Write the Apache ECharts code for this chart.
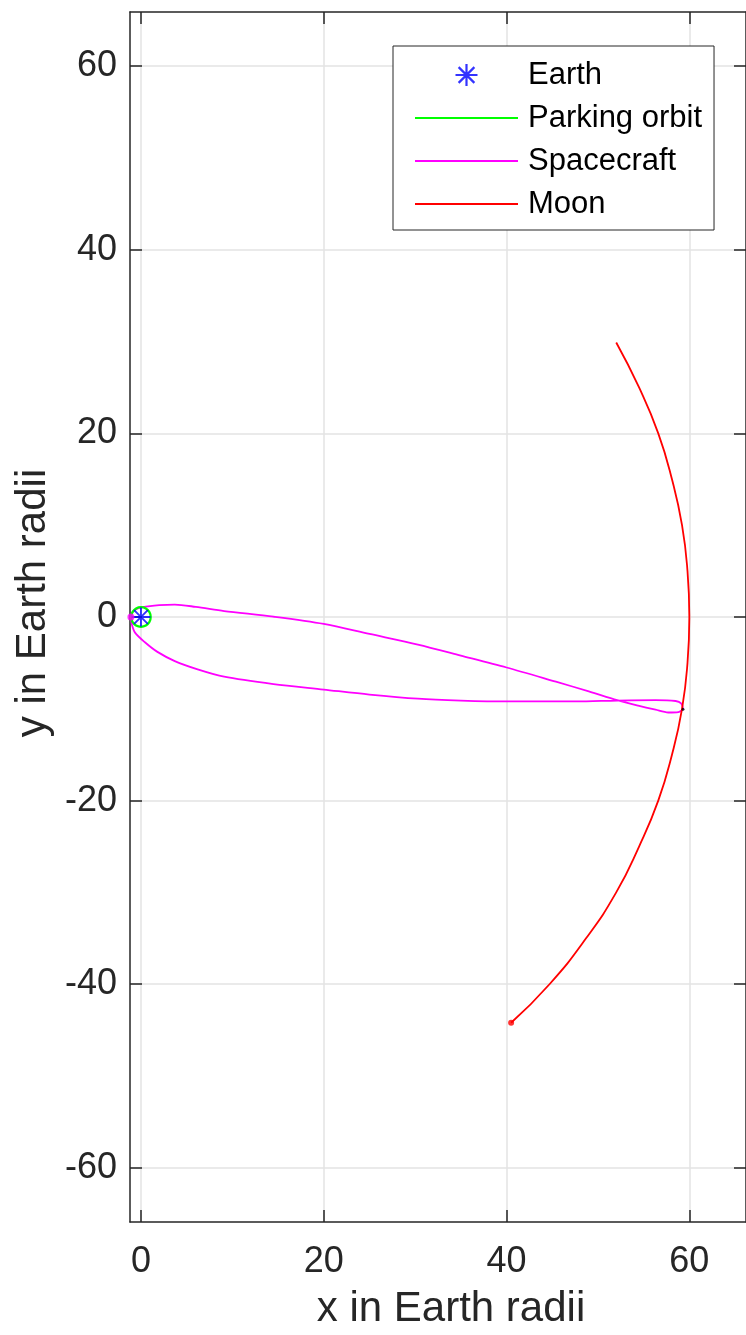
<!DOCTYPE html>
<html>
<head>
<meta charset="utf-8">
<script src="https://cdn.jsdelivr.net/npm/echarts@6/dist/echarts.min.js"></script>
<style>
  html,body{margin:0;padding:0;background:#fff;}
  #chart{width:746px;height:1335px;}
</style>
</head>
<body>
<div id="chart"></div>
<script>
// axis ticks
const xTicks = [0, 20, 40, 60];
const yTicks = [-60, -40, -20, 0, 20, 40, 60];

// Earth position
const earth = [[0, 0]];

// parking orbit (radius ~1.07 Earth radii)
const parking = [
  [1.07,0],[0.93,0.535],[0.535,0.93],[0,1.07],[-0.535,0.93],[-0.93,0.535],[-1.07,0],
  [-0.93,-0.535],[-0.535,-0.93],[0,-1.07],[0.535,-0.93],[0.93,-0.535],[1.07,0]
];

// spacecraft trajectory
const craft = [
  [-1.1,0],[-0.9,0.55],[-0.3,0.95],[0.76,1.15],[2,1.3],[3.7,1.35],[6,1.1],[9.1,0.65],
  [14.5,0.03],[20,-0.76],[25,-1.85],[30.3,-3.0],[35,-4.2],[40,-5.5],[45.4,-7.05],[49,-8.1],
  [52.1,-9.05],[54.4,-9.65],[56.3,-10.1],[57.7,-10.4],[58.8,-10.35],[59.3,-10.0],[59.1,-9.4],
  [58.5,-9.15],[56.3,-9.05],[52.1,-9.1],[47.6,-9.2],[40,-9.2],[35,-9.1],[30.3,-8.9],
  [25,-8.45],[20,-7.9],[14.5,-7.3],[9.1,-6.5],[6.2,-5.7],[3.7,-4.8],[1.8,-3.8],[0.43,-2.75],
  [-0.65,-1.7],[-1.0,-0.8],[-1.1,0]
];

// moon path
const moon = [
  [52.0,29.9],[54.5,25],[56.6,20],[58.1,15],[59.2,10],[59.8,5],[60.0,0],[59.8,-5],
  [59.2,-10],[58.1,-15],[56.6,-20],[54.5,-25],[52.0,-30],[48.7,-35],[44.7,-40],[40.5,-44.2]
];

const craftDot = [[-1.1, 0]];
const moonDot = [[40.5, -44.2]];
const endDot = [[59.3, -10.05]];

const ASTER = 'path://M0 45L100 45L100 55L0 55Z M45 0L55 0L55 100L45 100Z ' +
  'M17.7 10.6L89.4 82.3L82.3 89.4L10.6 17.7Z M82.3 10.6L89.4 17.7L17.7 89.4L10.6 82.3Z';
const LINEICON = 'path://M0 0L103 0L103 2L0 2Z';

const FONT = 'Liberation Sans, Arial, Helvetica, sans-serif';
const AX = '#262626', GRID = '#e3e3e3';

const chart = echarts.init(document.getElementById('chart'));
chart.setOption({
  animation: false,
  backgroundColor: '#fff',
  grid: {left: 130, top: 12, width: 621, height: 1218, containLabel: false},
  legend: {
    orient: 'vertical', left: 393, top: 46,
    data: [
      {name: 'Earth'},
      {name: 'Parking orbit', icon: LINEICON},
      {name: 'Spacecraft', icon: LINEICON},
      {name: 'Moon', icon: LINEICON}
    ],
    itemWidth: 103, itemHeight: 22, itemGap: 11,
    padding: [13, 12, 10, 22],
    borderColor: AX, borderWidth: 1, backgroundColor: '#fff',
    textStyle: {fontFamily: FONT, fontSize: 31, color: '#000', lineHeight: 32, padding: [0, 0, 0, 5]}
  },
  xAxis: [{
    type: 'value', min: -1.2, max: 66.2,
    name: 'x in Earth radii', nameLocation: 'middle', nameGap: 66,
    nameTextStyle: {fontFamily: FONT, fontSize: 42, color: AX, padding: [0, 0, 0, 26]},
    axisLine: {show: true, onZero: false, lineStyle: {color: AX, width: 1.5}},
    axisTick: {inside: true, length: 12, customValues: xTicks, lineStyle: {color: AX, width: 1.5}},
    axisLabel: {customValues: xTicks, fontFamily: FONT, fontSize: 36, color: AX, margin: 22},
    splitLine: {show: true, lineStyle: {color: GRID, width: 1.5}}
  }, {
    type: 'value', min: -1.2, max: 66.2, position: 'top',
    axisLine: {show: true, onZero: false, lineStyle: {color: AX, width: 1.5}},
    axisTick: {inside: true, length: 12, customValues: xTicks, lineStyle: {color: AX, width: 1.5}},
    axisLabel: {show: false}, splitLine: {show: false}
  }],
  yAxis: [{
    type: 'value', min: -65.9, max: 65.9,
    name: 'y in Earth radii', nameLocation: 'middle', nameGap: 76,
    nameTextStyle: {fontFamily: FONT, fontSize: 42, color: AX, padding: [0, 0, 0, 28]},
    axisLine: {show: true, onZero: false, lineStyle: {color: AX, width: 1.5}},
    axisTick: {inside: true, length: 12, customValues: yTicks, lineStyle: {color: AX, width: 1.5}},
    axisLabel: {customValues: yTicks, fontFamily: FONT, fontSize: 36, color: AX, margin: 13},
    splitLine: {show: true, lineStyle: {color: GRID, width: 1.5}}
  }, {
    type: 'value', min: -65.9, max: 65.9, position: 'right',
    axisLine: {show: true, onZero: false, lineStyle: {color: AX, width: 1.5}},
    axisTick: {inside: true, length: 12, customValues: yTicks, lineStyle: {color: AX, width: 1.5}},
    axisLabel: {show: false}, splitLine: {show: false}
  }],
  series: [
    {name: 'Earth', type: 'scatter', data: earth, symbol: ASTER, symbolSize: 19,
      itemStyle: {color: '#0000ff'}, z: 5},
    {name: 'Parking orbit', type: 'line', data: parking, smooth: true, symbol: 'none',
      lineStyle: {color: '#00ff00', width: 2.2}, itemStyle: {color: '#00ff00'}, z: 4},
    {name: 'Spacecraft', type: 'line', data: craft, smooth: 0.3, symbol: 'none',
      lineStyle: {color: '#ff00ff', width: 1.8}, itemStyle: {color: '#ff00ff'}, z: 3},
    {name: 'Moon', type: 'line', data: moon, smooth: true, symbol: 'none',
      lineStyle: {color: '#ff0000', width: 1.8}, itemStyle: {color: '#ff0000'}, z: 3},
    {type: 'scatter', data: craftDot, symbolSize: 7, itemStyle: {color: '#ff00ff'}, z: 6},
    {type: 'scatter', data: moonDot, symbolSize: 6, itemStyle: {color: '#ff0000'}, z: 6},
    {type: 'scatter', data: endDot, symbolSize: 3, itemStyle: {color: '#000'}, z: 6}
  ]
});
</script>
</body>
</html>
